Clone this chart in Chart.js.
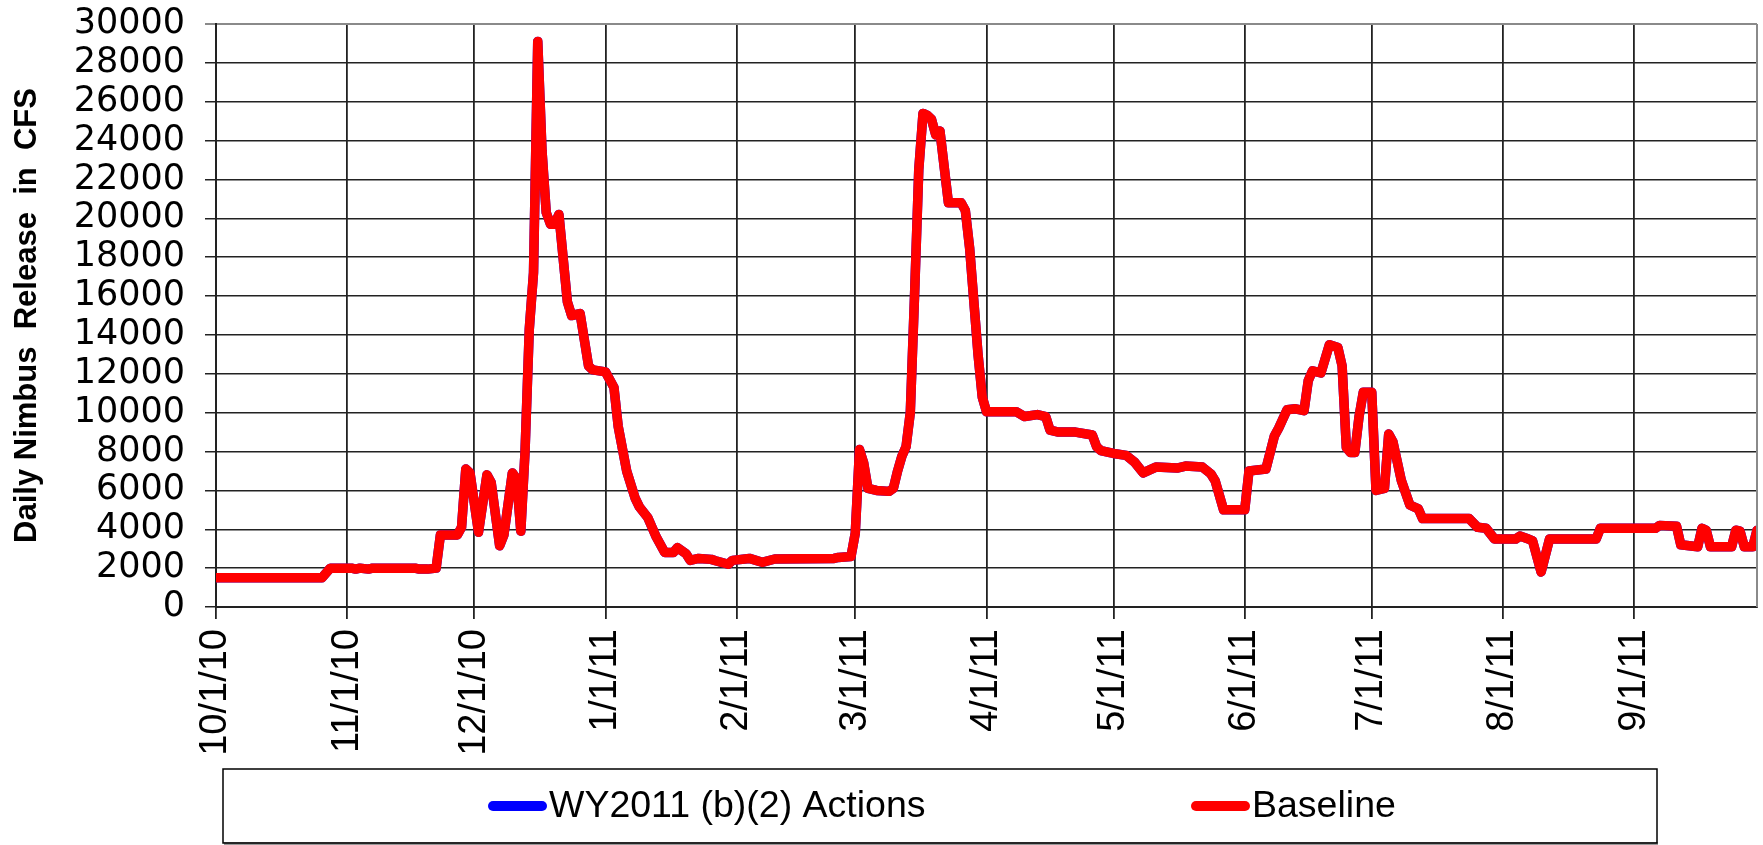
<!DOCTYPE html>
<html>
<head>
<meta charset="utf-8">
<script src="https://cdn.jsdelivr.net/npm/chart.js@4/dist/chart.umd.min.js"></script>
<style>
  html, body { margin: 0; padding: 0; background: #fff; }
  #wrap { position: relative; width: 1763px; height: 845px; }
</style>
</head>
<body>
<div id="wrap"><canvas id="c"></canvas></div>
<script>
// Day of water year (0 = 10/1/10, 364 = 9/30/11) at which the daily release changes slope
const dayOfWaterYear = [
  0, 25, 27, 32, 33, 34, 36, 37, 47, 48, 50, 52, 53, 57, 58, 59, 60, 62, 64, 65,
  67, 68, 70, 71, 72, 73, 74, 75, 76, 77, 78, 79, 80, 81, 83, 84, 86, 88, 89, 92,
  94, 95, 97, 99, 100, 102, 104, 106, 108, 109, 111, 112, 114, 117, 118, 121, 122, 126, 129, 132,
  146, 147, 150, 151, 152, 153, 154, 156, 159, 160, 161, 162, 163, 164, 165, 166, 167, 168, 169, 170,
  171, 173, 176, 177, 178, 180, 181, 182, 189, 191, 194, 196, 197, 199, 203, 207, 208, 209, 212, 215,
  217, 219, 222, 227, 229, 233, 235, 236, 238, 243, 244, 248, 250, 251, 253, 255, 257, 258, 259, 261,
  263, 265, 266, 267, 268, 269, 270, 271, 273, 274, 276, 277, 278, 280, 282, 284, 285, 296, 298, 300,
  302, 307, 308, 310, 311, 313, 315, 326, 327, 340, 341, 345, 346, 350, 351, 352, 353, 358, 359, 360,
  361, 363, 364
];

// Baseline daily Nimbus release (CFS)
const baselineCfs = [
  1500, 1500, 2000, 2000, 1950, 2000, 1950, 2000, 2000, 1950, 1950, 2000, 3700, 3700, 4100, 7100, 6900, 3850, 6800, 6400,
  3150, 3700, 6900, 6600, 3900, 8000, 14300, 17200, 29100, 23500, 20300, 19700, 19700, 20200, 15700, 15000, 15100, 12400, 12200, 12100,
  11300, 9300, 7000, 5600, 5150, 4600, 3600, 2800, 2800, 3050, 2750, 2400, 2500, 2450, 2380, 2200, 2400, 2500, 2300, 2470,
  2500, 2550, 2600, 3800, 8100, 7400, 6100, 6000, 5950, 6100, 7000, 7750, 8250, 10000, 16000, 22500, 25400, 25300, 25100, 24300,
  24500, 20800, 20800, 20400, 18500, 13000, 10800, 10050, 10050, 9800, 9900, 9800, 9100, 9000, 9000, 8850, 8250, 8050, 7900, 7800,
  7450, 6900, 7200, 7150, 7250, 7200, 6850, 6500, 5000, 5000, 7000, 7100, 8800, 9200, 10150, 10200, 10100, 11650, 12150, 12050,
  13500, 13350, 12400, 8200, 7950, 7950, 9800, 11050, 11050, 6000, 6100, 8900, 8500, 6500, 5250, 5050, 4550, 4550, 4100, 4050,
  3500, 3500, 3650, 3500, 3400, 1800, 3500, 3500, 4050, 4050, 4200, 4150, 3200, 3100, 4050, 3950, 3100, 3100, 3950, 3900,
  3100, 3100, 3950
];

// WY2011 (b)(2) Actions: drawn underneath Baseline, coincides with it everywhere in the picture
const actionsCfs = [
  1500, 1500, 2000, 2000, 1950, 2000, 1950, 2000, 2000, 1950, 1950, 2000, 3700, 3700, 4100, 7100, 6900, 3850, 6800, 6400,
  3150, 3700, 6900, 6600, 3900, 8000, 14300, 17200, 29100, 23500, 20300, 19700, 19700, 20200, 15700, 15000, 15100, 12400, 12200, 12100,
  11300, 9300, 7000, 5600, 5150, 4600, 3600, 2800, 2800, 3050, 2750, 2400, 2500, 2450, 2380, 2200, 2400, 2500, 2300, 2470,
  2500, 2550, 2600, 3800, 8100, 7400, 6100, 6000, 5950, 6100, 7000, 7750, 8250, 10000, 16000, 22500, 25400, 25300, 25100, 24300,
  24500, 20800, 20800, 20400, 18500, 13000, 10800, 10050, 10050, 9800, 9900, 9800, 9100, 9000, 9000, 8850, 8250, 8050, 7900, 7800,
  7450, 6900, 7200, 7150, 7250, 7200, 6850, 6500, 5000, 5000, 7000, 7100, 8800, 9200, 10150, 10200, 10100, 11650, 12150, 12050,
  13500, 13350, 12400, 8200, 7950, 7950, 9800, 11050, 11050, 6000, 6100, 8900, 8500, 6500, 5250, 5050, 4550, 4550, 4100, 4050,
  3500, 3500, 3650, 3500, 3400, 1800, 3500, 3500, 4050, 4050, 4200, 4150, 3200, 3100, 4050, 3950, 3100, 3100, 3950, 3900,
  3100, 3100, 3950
];

// Month-start ticks on the x axis
const monthTickDays = [0, 31, 61, 92, 123, 151, 182, 212, 243, 273, 304, 335];
const monthTickLabels = ['10/1/10', '11/1/10', '12/1/10', '1/1/11', '2/1/11', '3/1/11', '4/1/11', '5/1/11', '6/1/11', '7/1/11', '8/1/11', '9/1/11'];

const seriesNames = ['WY2011 (b)(2) Actions', 'Baseline'];
const yTitle = 'Daily Nimbus  Release  in  CFS';

const FONT = "'Liberation Sans', Arial, sans-serif";
const WIDE_FONT = "'DejaVu Sans', 'Liberation Sans', Arial, sans-serif";

const toPoints = (vals) => vals.map((v, i) => ({ x: dayOfWaterYear[i], y: v }));

const frameAndLegend = {
  id: 'frameAndLegend',
  afterDraw(chart) {
    const ctx = chart.ctx;
    const a = chart.chartArea;
    ctx.save();
    // right border of plot
    ctx.strokeStyle = '#8a8a8a';
    ctx.lineWidth = 2;
    ctx.beginPath();
    ctx.moveTo(a.right, a.top);
    ctx.lineTo(a.right, a.bottom);
    ctx.stroke();

    // legend box
    const bx = 223, by = 769, bw = 1434, bh = 74;
    ctx.fillStyle = '#9a9a9a';
    ctx.fillRect(bx + 1, by + bh - 1, bw, 3);
    ctx.strokeStyle = '#000';
    ctx.lineWidth = 1.5;
    ctx.strokeRect(bx, by, bw, bh);

    const cy = 806;
    const items = [
      { x0: 488, x1: 547, tx: 549 },
      { x0: 1191, x1: 1250, tx: 1252 }
    ];
    ctx.font = '37.5px ' + FONT;
    ctx.textBaseline = 'middle';
    ctx.textAlign = 'left';
    chart.data.datasets.forEach((ds, i) => {
      const it = items[i];
      ctx.strokeStyle = ds.borderColor;
      ctx.lineWidth = 10;
      ctx.lineCap = 'round';
      ctx.beginPath();
      ctx.moveTo(it.x0 + 5, cy);
      ctx.lineTo(it.x1 - 5, cy);
      ctx.stroke();
      ctx.fillStyle = '#000';
      ctx.fillText(ds.label, it.tx, cy + 1);
    });
    ctx.restore();
  }
};

new Chart(document.getElementById('c'), {
  type: 'line',
  data: {
    datasets: [
      {
        label: seriesNames[0],
        data: toPoints(actionsCfs),
        borderColor: '#0000ff',
        borderWidth: 9.5,
        pointRadius: 0,
        tension: 0,
        borderJoinStyle: 'round',
        borderCapStyle: 'round',
        order: 2
      },
      {
        label: seriesNames[1],
        data: toPoints(baselineCfs),
        borderColor: '#ff0000',
        borderWidth: 9.5,
        pointRadius: 0,
        tension: 0,
        borderJoinStyle: 'round',
        borderCapStyle: 'round',
        order: 1
      }
    ]
  },
  options: {
    responsive: true,
    maintainAspectRatio: false,
    animation: false,
    devicePixelRatio: 1,
    layout: { padding: { top: 24, right: 6, bottom: 0, left: 0 } },
    plugins: {
      legend: { display: false },
      tooltip: { enabled: false }
    },
    scales: {
      x: {
        type: 'linear',
        min: 0,
        max: 364,
        afterBuildTicks(scale) {
          scale.ticks = monthTickDays.map(v => ({ value: v }));
        },
        afterFit(scale) {
          scale.height = 238;
          scale.paddingLeft = 0;
          scale.paddingRight = 0;
        },
        ticks: {
          autoSkip: false,
          minRotation: 90,
          maxRotation: 90,
          padding: 10,
          color: '#000',
          font: { family: FONT, size: 38 },
          callback(value) {
            const i = monthTickDays.indexOf(value);
            return i >= 0 ? monthTickLabels[i] : '';
          }
        },
        grid: {
          color: '#222',
          lineWidth: 1.8,
          tickLength: 12,
          drawTicks: true
        },
        border: { color: '#222', width: 2 }
      },
      y: {
        min: 0,
        max: 30000,
        afterFit(scale) {
          scale.width = 216;
          scale.paddingTop = 0;
          scale.paddingBottom = 0;
        },
        ticks: {
          stepSize: 2000,
          autoSkip: false,
          padding: 20,
          color: '#000',
          font: { family: WIDE_FONT, size: 35, lineHeight: 1 },
          callback(value) { return String(value); }
        },
        grid: {
          color(ctx) { return ctx.tick && ctx.tick.value === 30000 ? '#8a8a8a' : '#222'; },
          lineWidth(ctx) { return ctx.tick && ctx.tick.value === 30000 ? 2 : 1.5; },
          tickLength: 11
        },
        border: { color: '#222', width: 2 },
        title: {
          display: true,
          text: yTitle,
          color: '#000',
          font: { family: FONT, size: 31, weight: 'bold', lineHeight: 1.2 },
          padding: { top: 9, bottom: 0 }
        }
      }
    }
  },
  plugins: [frameAndLegend]
});
</script>
</body>
</html>
